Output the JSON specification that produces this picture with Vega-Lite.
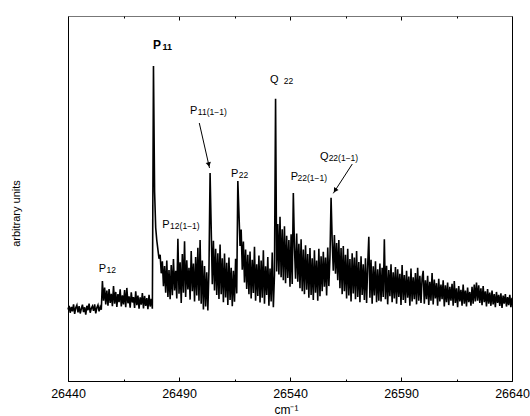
{
"$schema":"https://vega.github.io/schema/vega-lite/v6.json",
"width":444,"height":365,
"autosize":{"type":"none"},
"padding":{"left":68,"top":16,"right":18,"bottom":35},
"config":{"view":{"stroke":"#000","strokeWidth":1},"font":"Liberation Sans"},
"datasets":{
"spec":[
{"x":26440,"y":19.6},{"x":26440.5,"y":20.6},{"x":26441,"y":18.7},{"x":26441.5,"y":20.3},{"x":26442,"y":19.1},{"x":26442.5,"y":21.0},{"x":26443,"y":18.4},{"x":26443.5,"y":20.1},{"x":26444,"y":20.8},{"x":26444.5,"y":18.8},{"x":26445,"y":20.5},{"x":26445.5,"y":18.5},{"x":26446,"y":19.8},{"x":26446.5,"y":20.9},{"x":26447,"y":18.9},{"x":26447.5,"y":20.2},{"x":26448,"y":18.2},{"x":26448.5,"y":20.6},{"x":26449,"y":19.4},{"x":26449.5,"y":21.2},{"x":26450,"y":18.7},{"x":26450.5,"y":19.9},{"x":26451,"y":20.5},{"x":26451.5,"y":19.2},{"x":26452,"y":21.0},{"x":26452.5,"y":18.5},{"x":26453,"y":20.1},{"x":26453.5,"y":20.8},{"x":26454,"y":19.1},{"x":26454.5,"y":20.3},{"x":26455,"y":19.5},
{"x":26455.5,"y":27.4},{"x":26456,"y":22.0},{"x":26456.5,"y":25.6},{"x":26457,"y":21.0},{"x":26457.5,"y":24.8},{"x":26458,"y":20.6},{"x":26458.5,"y":25.2},{"x":26459,"y":21.4},{"x":26459.5,"y":23.9},{"x":26460,"y":20.5},{"x":26460.5,"y":26.0},{"x":26461,"y":21.2},{"x":26461.5,"y":24.4},{"x":26462,"y":20.3},{"x":26462.5,"y":23.8},{"x":26463,"y":21.6},{"x":26463.5,"y":25.1},{"x":26464,"y":20.4},{"x":26464.5,"y":23.5},{"x":26465,"y":21.0},{"x":26465.5,"y":24.9},{"x":26466,"y":20.2},{"x":26466.5,"y":25.5},{"x":26467,"y":21.3},{"x":26467.5,"y":23.2},{"x":26468,"y":20.1},{"x":26468.5,"y":24.3},{"x":26469,"y":21.5},{"x":26469.5,"y":23.0},{"x":26470,"y":20.0},{"x":26470.5,"y":24.6},{"x":26471,"y":20.8},{"x":26471.5,"y":23.4},{"x":26472,"y":19.8},{"x":26472.5,"y":22.9},{"x":26473,"y":20.9},{"x":26473.5,"y":24.1},{"x":26474,"y":19.9},{"x":26474.5,"y":23.3},{"x":26475,"y":20.6},{"x":26475.5,"y":22.7},{"x":26476,"y":19.7},{"x":26476.5,"y":23.6},{"x":26477,"y":20.4},{"x":26477.5,"y":22.5},{"x":26478,"y":19.8},
{"x":26478.5,"y":86.3},{"x":26479,"y":52.0},{"x":26479.5,"y":42.0},{"x":26480,"y":38.5},{"x":26480.5,"y":36.0},{"x":26481,"y":33.5},{"x":26481.5,"y":34.6},{"x":26482,"y":29.5},{"x":26482.5,"y":32.8},{"x":26483,"y":26.0},{"x":26483.5,"y":31.5},{"x":26484,"y":24.2},{"x":26484.5,"y":33.0},{"x":26485,"y":23.0},{"x":26485.5,"y":30.4},{"x":26486,"y":22.4},
{"x":26486.5,"y":31.8},{"x":26487,"y":23.5},{"x":26487.5,"y":33.4},{"x":26488,"y":24.8},{"x":26488.5,"y":30.2},{"x":26489,"y":22.6},{"x":26489.5,"y":39.0},{"x":26490,"y":23.9},{"x":26490.5,"y":32.5},{"x":26491,"y":21.4},{"x":26491.5,"y":34.8},{"x":26492,"y":24.2},{"x":26492.5,"y":38.3},{"x":26493,"y":23.0},{"x":26493.5,"y":33.1},{"x":26494,"y":25.1},{"x":26494.5,"y":31.0},{"x":26495,"y":22.3},{"x":26495.5,"y":35.6},{"x":26496,"y":24.6},{"x":26496.5,"y":32.2},{"x":26497,"y":21.8},{"x":26497.5,"y":34.0},{"x":26498,"y":23.4},{"x":26498.5,"y":36.5},{"x":26499,"y":22.0},{"x":26499.5,"y":38.6},{"x":26500,"y":21.2},{"x":26500.5,"y":33.0},{"x":26501,"y":19.6},{"x":26501.5,"y":31.5},{"x":26502,"y":20.4},{"x":26502.5,"y":29.8},{"x":26503,"y":19.3},{"x":26503.5,"y":30.6},
{"x":26504,"y":57.0},{"x":26504.5,"y":42.0},{"x":26505,"y":26.5},{"x":26505.5,"y":38.4},{"x":26506,"y":24.8},{"x":26506.5,"y":36.2},{"x":26507,"y":23.6},{"x":26507.5,"y":35.0},{"x":26508,"y":22.5},{"x":26508.5,"y":37.4},{"x":26509,"y":23.8},{"x":26509.5,"y":33.6},{"x":26510,"y":21.6},{"x":26510.5,"y":34.9},{"x":26511,"y":22.9},{"x":26511.5,"y":32.4},{"x":26512,"y":20.8},{"x":26512.5,"y":33.8},{"x":26513,"y":22.2},{"x":26513.5,"y":31.0},{"x":26514,"y":20.5},{"x":26514.5,"y":30.2},{"x":26515,"y":21.7},{"x":26515.5,"y":33.5},{"x":26516,"y":24.0},
{"x":26516.5,"y":54.8},{"x":26517,"y":46.0},{"x":26517.5,"y":37.0},{"x":26518,"y":41.5},{"x":26518.5,"y":30.5},{"x":26519,"y":38.2},{"x":26519.5,"y":27.0},{"x":26520,"y":36.0},{"x":26520.5,"y":25.2},{"x":26521,"y":34.6},{"x":26521.5,"y":23.8},{"x":26522,"y":35.5},{"x":26522.5,"y":22.6},{"x":26523,"y":33.2},{"x":26523.5,"y":24.1},{"x":26524,"y":36.8},{"x":26524.5,"y":22.0},{"x":26525,"y":32.0},{"x":26525.5,"y":23.3},{"x":26526,"y":34.4},{"x":26526.5,"y":21.5},{"x":26527,"y":33.0},{"x":26527.5,"y":22.8},{"x":26528,"y":35.8},{"x":26528.5,"y":21.2},{"x":26529,"y":31.4},{"x":26529.5,"y":23.6},{"x":26530,"y":34.0},{"x":26530.5,"y":20.6},{"x":26531,"y":30.8},{"x":26531.5,"y":21.8},{"x":26532,"y":35.2},{"x":26532.5,"y":20.2},{"x":26533,"y":29.0},
{"x":26533.5,"y":77.3},{"x":26534,"y":30.0},{"x":26534.5,"y":43.0},{"x":26535,"y":29.2},{"x":26535.5,"y":45.0},{"x":26536,"y":28.4},{"x":26536.5,"y":41.6},{"x":26537,"y":27.6},{"x":26537.5,"y":42.4},{"x":26538,"y":26.8},{"x":26538.5,"y":39.8},{"x":26539,"y":28.2},{"x":26539.5,"y":38.6},{"x":26540,"y":25.8},{"x":26540.5,"y":40.2},{"x":26541,"y":26.6},
{"x":26541.5,"y":51.5},{"x":26542,"y":36.8},{"x":26542.5,"y":28.0},{"x":26543,"y":40.4},{"x":26543.5,"y":27.2},{"x":26544,"y":37.6},{"x":26544.5,"y":25.4},{"x":26545,"y":38.8},{"x":26545.5,"y":24.6},{"x":26546,"y":36.0},{"x":26546.5,"y":23.8},{"x":26547,"y":37.2},{"x":26547.5,"y":25.0},{"x":26548,"y":34.8},{"x":26548.5,"y":22.8},{"x":26549,"y":36.4},{"x":26549.5,"y":23.6},{"x":26550,"y":33.6},{"x":26550.5,"y":22.2},{"x":26551,"y":35.8},{"x":26551.5,"y":24.2},{"x":26552,"y":33.0},{"x":26552.5,"y":22.0},{"x":26553,"y":36.2},{"x":26553.5,"y":23.2},{"x":26554,"y":34.2},{"x":26554.5,"y":24.6},{"x":26555,"y":35.4},{"x":26555.5,"y":25.8},{"x":26556,"y":33.8},{"x":26556.5,"y":23.4},{"x":26557,"y":36.6},{"x":26557.5,"y":26.0},{"x":26558,"y":34.0},
{"x":26558.5,"y":50.2},{"x":26559,"y":38.5},{"x":26559.5,"y":30.2},{"x":26560,"y":40.0},{"x":26560.5,"y":29.4},{"x":26561,"y":37.8},{"x":26561.5,"y":27.6},{"x":26562,"y":38.6},{"x":26562.5,"y":25.4},{"x":26563,"y":36.4},{"x":26563.5,"y":23.8},{"x":26564,"y":37.0},{"x":26564.5,"y":24.6},{"x":26565,"y":34.6},{"x":26565.5,"y":22.6},{"x":26566,"y":36.2},{"x":26566.5,"y":23.4},{"x":26567,"y":33.4},{"x":26567.5,"y":21.8},{"x":26568,"y":35.0},{"x":26568.5,"y":24.0},{"x":26569,"y":33.8},{"x":26569.5,"y":22.4},{"x":26570,"y":35.6},{"x":26570.5,"y":23.0},{"x":26571,"y":32.6},{"x":26571.5,"y":21.6},{"x":26572,"y":34.2},{"x":26572.5,"y":23.6},{"x":26573,"y":32.0},{"x":26573.5,"y":22.2},{"x":26574,"y":33.6},{"x":26574.5,"y":21.4},{"x":26575,"y":31.8},{"x":26575.5,"y":39.5},{"x":26576,"y":22.8},{"x":26576.5,"y":33.2},{"x":26577,"y":21.2},{"x":26577.5,"y":31.4},{"x":26578,"y":23.4},{"x":26578.5,"y":32.8},{"x":26579,"y":21.6},{"x":26579.5,"y":30.6},{"x":26580,"y":22.0},
{"x":26580.5,"y":32.2},{"x":26581,"y":21.8},{"x":26581.5,"y":31.0},{"x":26582,"y":23.0},{"x":26582.5,"y":38.8},{"x":26583,"y":22.4},{"x":26583.5,"y":31.6},{"x":26584,"y":21.0},{"x":26584.5,"y":30.4},{"x":26585,"y":23.2},{"x":26585.5,"y":32.0},{"x":26586,"y":21.6},{"x":26586.5,"y":29.8},{"x":26587,"y":22.6},{"x":26587.5,"y":31.2},{"x":26588,"y":21.2},{"x":26588.5,"y":30.6},{"x":26589,"y":23.0},{"x":26589.5,"y":29.4},{"x":26590,"y":20.8},{"x":26590.5,"y":31.8},{"x":26591,"y":22.2},{"x":26591.5,"y":29.0},{"x":26592,"y":21.4},{"x":26592.5,"y":30.2},{"x":26593,"y":22.8},{"x":26593.5,"y":28.6},{"x":26594,"y":20.6},{"x":26594.5,"y":30.8},{"x":26595,"y":21.8},{"x":26595.5,"y":28.4},{"x":26596,"y":22.4},{"x":26596.5,"y":29.6},{"x":26597,"y":21.0},{"x":26597.5,"y":31.0},{"x":26598,"y":22.0},{"x":26598.5,"y":28.8},
{"x":26599,"y":21.4},{"x":26599.5,"y":28.2},{"x":26600,"y":30.2},{"x":26600.5,"y":21.2},{"x":26601,"y":27.6},{"x":26601.5,"y":22.4},{"x":26602,"y":28.8},{"x":26602.5,"y":20.8},{"x":26603,"y":27.2},{"x":26603.5,"y":22.0},{"x":26604,"y":29.6},{"x":26604.5,"y":21.0},{"x":26605,"y":27.8},{"x":26605.5,"y":22.6},{"x":26606,"y":26.8},{"x":26606.5,"y":20.6},{"x":26607,"y":28.0},{"x":26607.5,"y":21.8},{"x":26608,"y":26.4},{"x":26608.5,"y":22.4},{"x":26609,"y":27.6},{"x":26609.5,"y":20.4},{"x":26610,"y":26.2},{"x":26610.5,"y":21.6},{"x":26611,"y":27.0},{"x":26611.5,"y":20.8},{"x":26612,"y":25.8},{"x":26612.5,"y":22.0},{"x":26613,"y":26.6},{"x":26613.5,"y":20.6},{"x":26614,"y":27.4},{"x":26614.5,"y":21.4},{"x":26615,"y":25.4},{"x":26615.5,"y":20.2},{"x":26616,"y":26.0},{"x":26616.5,"y":21.8},{"x":26617,"y":25.0},{"x":26617.5,"y":20.6},{"x":26618,"y":26.4},{"x":26618.5,"y":21.2},{"x":26619,"y":24.8},{"x":26619.5,"y":20.4},{"x":26620,"y":25.6},{"x":26620.5,"y":21.6},{"x":26621,"y":24.4},
{"x":26621.5,"y":20.6},{"x":26622,"y":25.8},{"x":26622.5,"y":21.2},{"x":26623,"y":26.4},{"x":26623.5,"y":21.8},{"x":26624,"y":27.0},{"x":26624.5,"y":22.0},{"x":26625,"y":26.2},{"x":26625.5,"y":21.4},{"x":26626,"y":25.4},{"x":26626.5,"y":20.8},{"x":26627,"y":26.0},{"x":26627.5,"y":21.6},{"x":26628,"y":24.6},{"x":26628.5,"y":20.4},{"x":26629,"y":25.2},{"x":26629.5,"y":21.2},{"x":26630,"y":24.2},{"x":26630.5,"y":20.6},{"x":26631,"y":24.8},{"x":26631.5,"y":21.0},{"x":26632,"y":23.8},{"x":26632.5,"y":20.2},{"x":26633,"y":24.4},{"x":26633.5,"y":21.4},{"x":26634,"y":23.6},{"x":26634.5,"y":20.6},{"x":26635,"y":24.0},{"x":26635.5,"y":20.0},{"x":26636,"y":23.4},{"x":26636.5,"y":21.2},{"x":26637,"y":23.8},{"x":26637.5,"y":20.4},{"x":26638,"y":23.0},{"x":26638.5,"y":20.8},{"x":26639,"y":23.6},{"x":26639.5,"y":20.2},{"x":26640,"y":22.8}
],
"labels":[
{"m":"P","s":"11(1−1)","mx":26494.95,"sx":26498.5,"y":73.15,"b":0},
{"m":"P","s":"22","mx":26513.42,"sx":26516.9,"y":55.89,"b":0},
{"m":"P","s":"12(1−1)","mx":26482.48,"sx":26486.0,"y":41.92,"b":0},
{"m":"P","s":"12","mx":26453.83,"sx":26457.35,"y":29.86,"b":0},
{"m":"Q","s":"22","mx":26530.99,"sx":26537.2,"y":81.64,"b":0},
{"m":"P","s":"22(1−1)","mx":26540.32,"sx":26543.4,"y":55.07,"b":0},
{"m":"Q","s":"22(1−1)","mx":26553.51,"sx":26557.4,"y":60.55,"b":0},
{"m":"P","s":"11","mx":26478.29,"sx":26482.6,"y":90.96,"b":1}
],
"arrows":[
{"x":26499.14,"y":70.68,"x2":26503.74,"y2":58.36},
{"x":26568.06,"y":59.45,"x2":26559.5,"y2":51.42}
],
"heads":[
{"x":26503.42,"y":59.3,"a":167.2},
{"x":26560.3,"y":52.2,"a":213}
]
},
"resolve":{"axis":{"x":"independent","y":"shared"}},
"layer":[
{"data":{"name":"spec"},"mark":{"type":"line","color":"#000","strokeWidth":1.6,"interpolate":"linear"},
 "encoding":{
  "x":{"field":"x","type":"quantitative","scale":{"domain":[26440,26640],"nice":false,"zero":false},
   "axis":{"orient":"bottom","values":[26440,26490,26540,26590,26640],"format":"d","tickSize":-4,"tickColor":"#000","domainColor":"#000","grid":false,"labelFontSize":12.5,"labelColor":"#000","labelFont":"Liberation Sans","labelPadding":10,"labelFlush":false,"labelOverlap":false,"labelBound":false,"title":"cm⁻¹","titleFont":"Liberation Sans","titleFontWeight":"normal","titleFontSize":12,"titleColor":"#000","titleX":218,"titleY":28,"titleAlign":"center","titleBaseline":"middle"}},
  "y":{"field":"y","type":"quantitative","scale":{"domain":[0,100],"nice":false},
   "axis":{"orient":"left","labels":false,"ticks":false,"domain":false,"grid":false,"title":"arbitrary units","titleFont":"Liberation Sans","titleFontSize":11,"titleFontWeight":"normal","titleColor":"#000","titlePadding":47,"titleY":197}}
 }},
{"data":{"name":"arrows"},"mark":{"type":"rule","color":"#000","strokeWidth":1},
 "encoding":{
  "x":{"field":"x","type":"quantitative","axis":{"orient":"bottom","values":[26465,26515,26565,26615],"labels":false,"tickSize":-2,"tickColor":"#000","domain":false,"grid":false,"title":null}},
  "y":{"field":"y","type":"quantitative","axis":{"orient":"left","labels":false,"ticks":false,"domain":false,"grid":false,"title":"arbitrary units","titleFont":"Liberation Sans","titleFontSize":11,"titleFontWeight":"normal","titleColor":"#000","titlePadding":47,"titleY":197}},
  "x2":{"field":"x2"},"y2":{"field":"y2"}
 }},
{"data":{"name":"heads"},"mark":{"type":"point","shape":"triangle-up","filled":true,"color":"#000","size":28,"opacity":1},
 "encoding":{
  "x":{"field":"x","type":"quantitative","axis":{"orient":"top","values":[26440,26490,26540,26590,26640],"labels":false,"tickSize":-4,"tickColor":"#000","domainColor":"#777","grid":false,"title":null}},
  "y":{"field":"y","type":"quantitative","axis":{"orient":"left","labels":false,"ticks":false,"domain":false,"grid":false,"title":"arbitrary units","titleFont":"Liberation Sans","titleFontSize":11,"titleFontWeight":"normal","titleColor":"#000","titlePadding":47,"titleY":197}},
  "angle":{"field":"a","type":"quantitative","scale":null}
 }},
{"data":{"name":"labels"},"transform":[{"filter":"datum.b == 0"}],"mark":{"type":"text","align":"left","baseline":"alphabetic","fontSize":11,"font":"Liberation Sans","color":"#000"},
 "encoding":{
  "x":{"field":"mx","type":"quantitative","axis":{"orient":"top","values":[26465,26515,26565,26615],"labels":false,"tickSize":-2,"tickColor":"#000","domain":false,"grid":false,"title":null}},
  "y":{"field":"y","type":"quantitative","axis":{"orient":"left","labels":false,"ticks":false,"domain":false,"grid":false,"title":"arbitrary units","titleFont":"Liberation Sans","titleFontSize":11,"titleFontWeight":"normal","titleColor":"#000","titlePadding":47,"titleY":197}},
  "text":{"field":"m"}
 }},
{"data":{"name":"labels"},"transform":[{"filter":"datum.b == 0"}],"mark":{"type":"text","align":"left","baseline":"alphabetic","fontSize":8.5,"dy":1,"font":"Liberation Sans","color":"#000"},
 "encoding":{
  "x":{"field":"sx","type":"quantitative","axis":null},
  "y":{"field":"y","type":"quantitative","axis":{"orient":"left","labels":false,"ticks":false,"domain":false,"grid":false,"title":"arbitrary units","titleFont":"Liberation Sans","titleFontSize":11,"titleFontWeight":"normal","titleColor":"#000","titlePadding":47,"titleY":197}},
  "text":{"field":"s"}
 }},
{"data":{"name":"labels"},"transform":[{"filter":"datum.b == 1"}],"mark":{"type":"text","align":"left","baseline":"alphabetic","fontSize":12,"fontWeight":"bold","font":"Liberation Sans","color":"#000"},
 "encoding":{
  "x":{"field":"mx","type":"quantitative","axis":null},
  "y":{"field":"y","type":"quantitative","axis":{"orient":"left","labels":false,"ticks":false,"domain":false,"grid":false,"title":"arbitrary units","titleFont":"Liberation Sans","titleFontSize":11,"titleFontWeight":"normal","titleColor":"#000","titlePadding":47,"titleY":197}},
  "text":{"field":"m"}
 }},
{"data":{"name":"labels"},"transform":[{"filter":"datum.b == 1"}],"mark":{"type":"text","align":"left","baseline":"alphabetic","fontSize":9,"fontWeight":"bold","dy":1,"font":"Liberation Sans","color":"#000"},
 "encoding":{
  "x":{"field":"sx","type":"quantitative","axis":null},
  "y":{"field":"y","type":"quantitative","axis":{"orient":"left","labels":false,"ticks":false,"domain":false,"grid":false,"title":"arbitrary units","titleFont":"Liberation Sans","titleFontSize":11,"titleFontWeight":"normal","titleColor":"#000","titlePadding":47,"titleY":197}},
  "text":{"field":"s"}
 }}
]
}
